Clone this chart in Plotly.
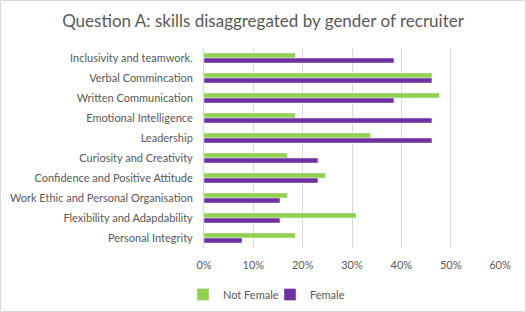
import plotly.graph_objects as go

categories = [
    "Inclusivity and teamwork.",
    "Verbal Commincation",
    "Written Communication",
    "Emotional Intelligence",
    "Leadership",
    "Curiosity and Creativity",
    "Confidence and Positive Attitude",
    "Work Ethic and Personal Organisation",
    "Flexibility and Adapdability",
    "Personal Integrity",
]
not_female = [0.185, 0.462, 0.477, 0.185, 0.338, 0.169, 0.246, 0.169, 0.308, 0.185]
female = [0.385, 0.462, 0.385, 0.462, 0.462, 0.231, 0.231, 0.154, 0.154, 0.077]
x_ticks = [0, 0.1, 0.2, 0.3, 0.4, 0.5, 0.6]

W, H = 526, 312
ML, MR, MT, MB = 204, 26, 48, 64
FONT = "Lato, 'Open Sans', sans-serif"
GREY = "#595959"

fig = go.Figure()
fig.add_trace(go.Bar(y=categories, x=not_female, name="Not Female", orientation="h",
                     marker_color="#92D050"))
fig.add_trace(go.Bar(y=categories, x=female, name="Female", orientation="h",
                     marker_color="#7030A0"))

pw = W - ML - MR
ph = H - MT - MB
fig.add_shape(type="rect", xref="paper", yref="paper",
              x0=-(ML - 0.5) / pw, x1=(pw + MR - 0.5) / pw,
              y0=-(MB - 0.5) / ph, y1=(ph + MT - 0.5) / ph,
              line=dict(color="#D9D9D9", width=1), layer="below")

fig.update_layout(
    width=W, height=H,
    margin=dict(l=ML, r=MR, t=MT, b=MB, autoexpand=False),
    paper_bgcolor="white", plot_bgcolor="white",
    barmode="group", bargap=0.5, bargroupgap=0,
    font=dict(family=FONT, size=11, color=GREY),
    title=dict(text="Question A: skills disaggregated by gender of recruiter",
               x=0.5, xanchor="center", y=1 - 21 / H, yanchor="middle",
               font=dict(size=17, color=GREY, family=FONT)),
    xaxis=dict(range=[0, 0.6], tickvals=x_ticks, tickformat=".0%",
               showgrid=True, gridcolor="#D9D9D9", gridwidth=1,
               zeroline=False, showline=False, ticks="", automargin=False,
               ticklabelstandoff=9, tickfont=dict(size=11, color=GREY)),
    yaxis=dict(categoryorder="array", categoryarray=categories, autorange="reversed",
               showline=True, linecolor="#D9D9D9", linewidth=1, ticks="", automargin=False,
               ticklabelstandoff=8, tickfont=dict(size=11, color=GREY)),
    legend=dict(orientation="h", x=-0.071, xanchor="left", y=-0.16, yanchor="top",
                font=dict(size=11, color=GREY), itemwidth=30, entrywidth=42,
                traceorder="normal"),
    showlegend=True,
)

fig.write_html("out.html", config={"displayModeBar": False},
               post_script="document.body.style.margin='0';")
